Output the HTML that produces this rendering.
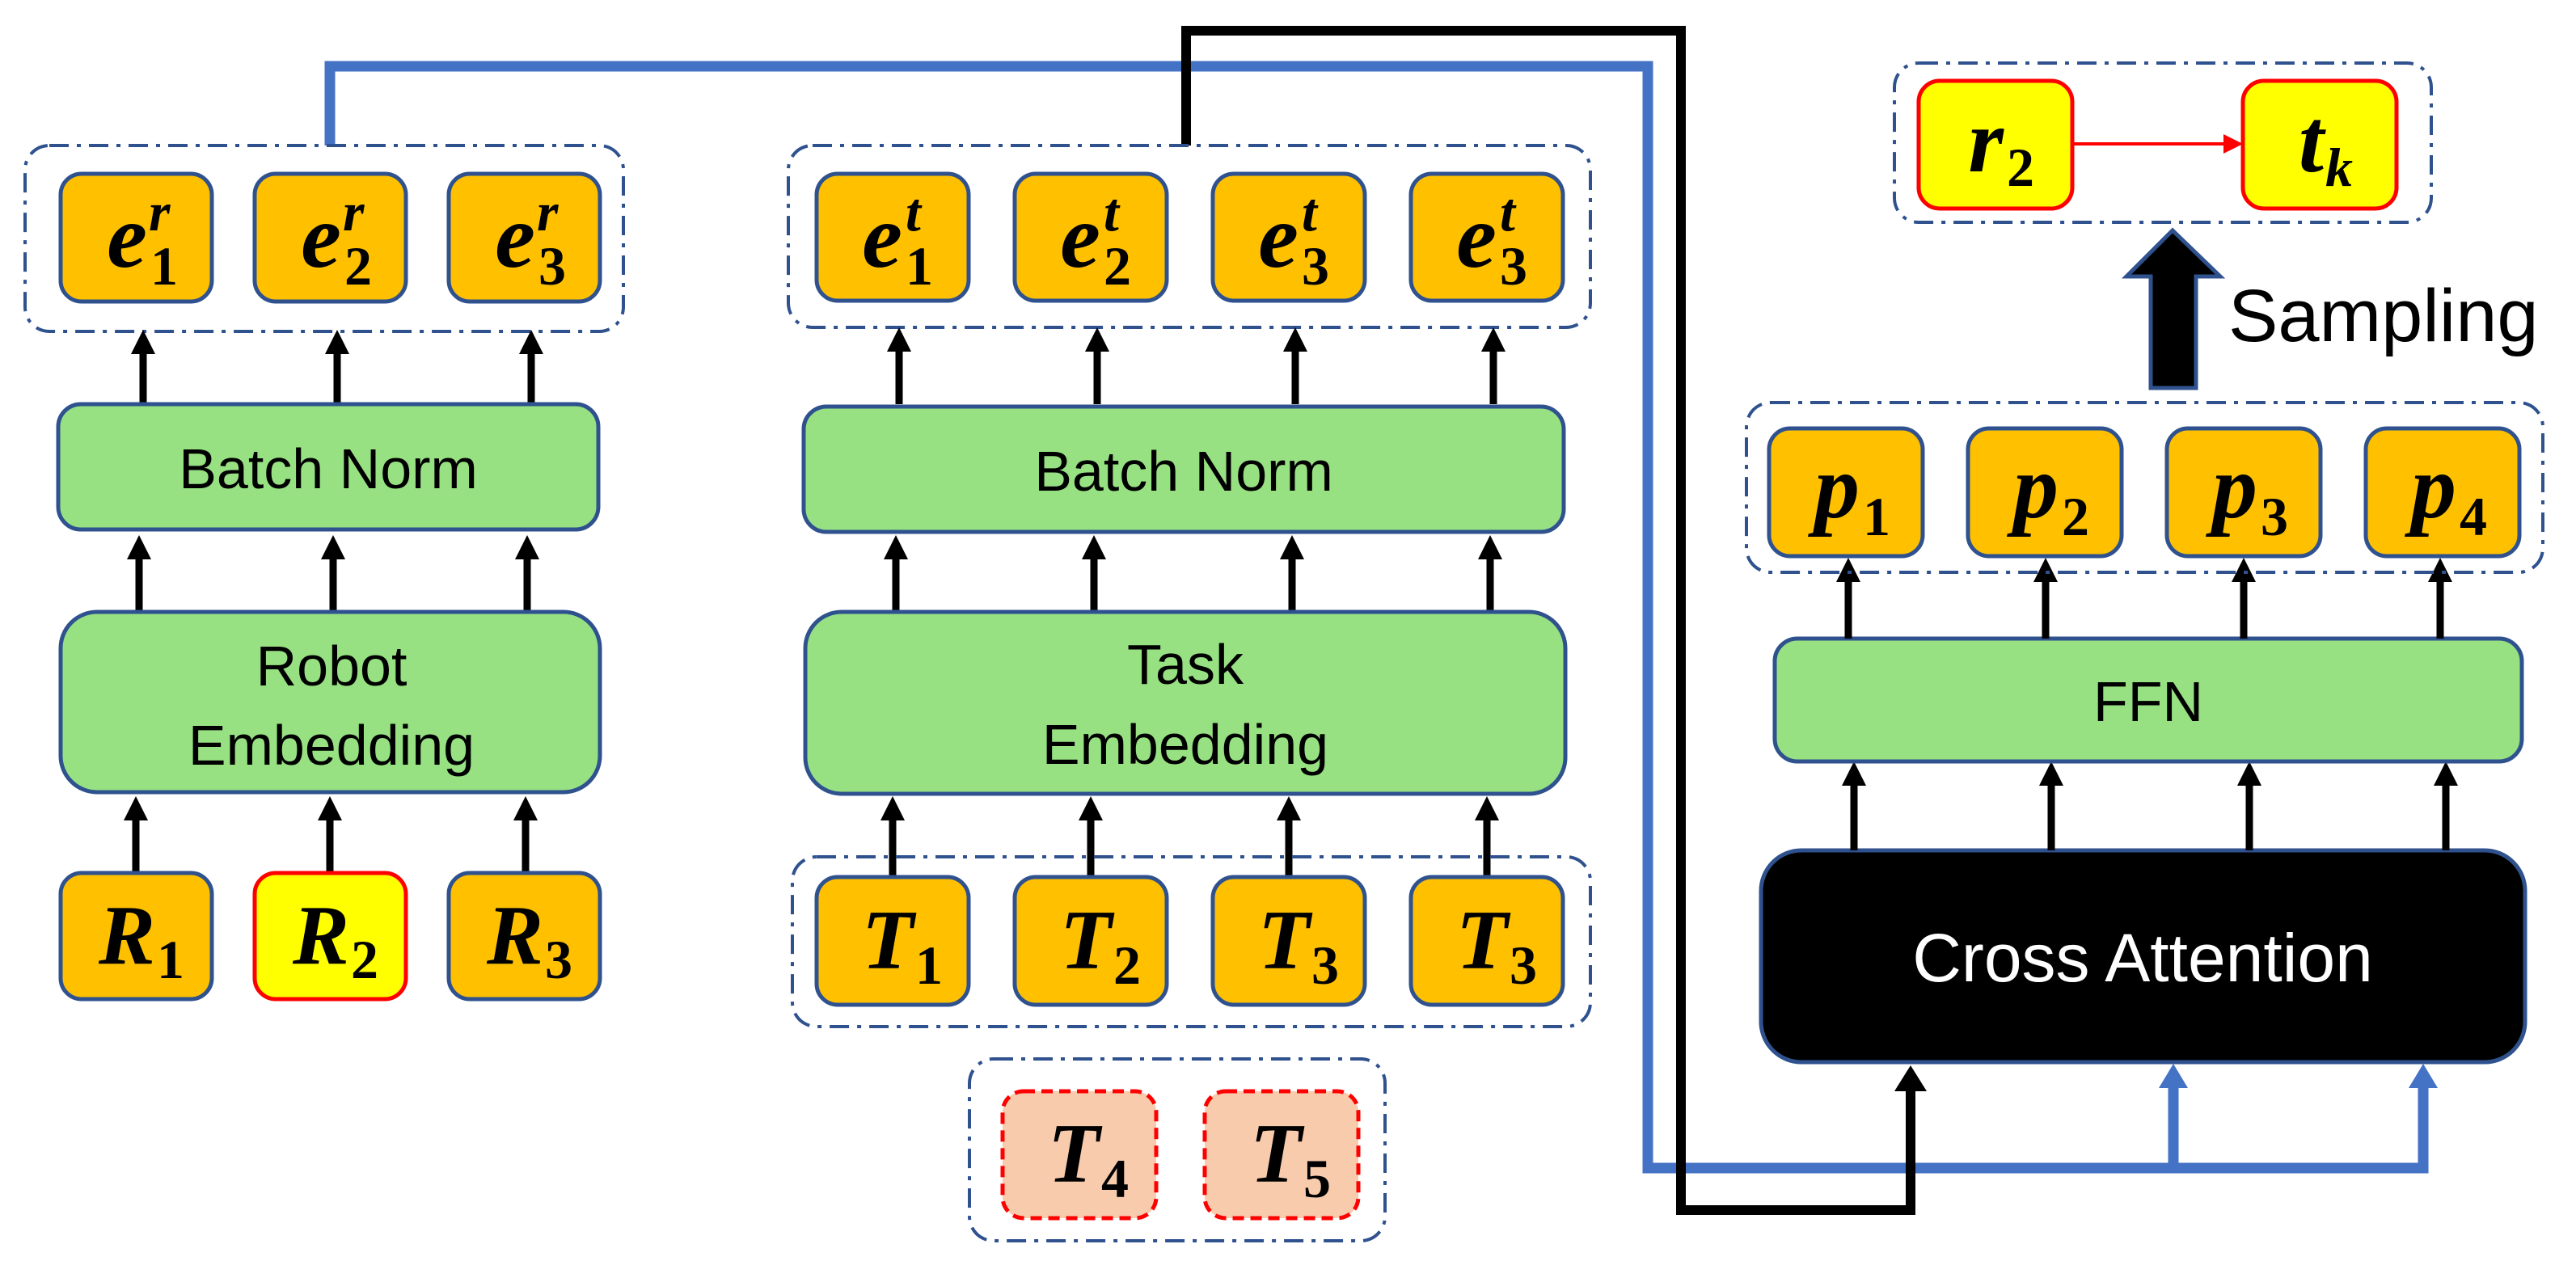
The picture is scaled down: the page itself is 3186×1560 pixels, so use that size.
<!DOCTYPE html>
<html><head><meta charset="utf-8"><style>
html,body{margin:0;padding:0;background:#fff;}
svg{display:block}
.lbl{font-family:"Liberation Sans","DejaVu Sans",sans-serif;fill:#000;text-anchor:middle}
.m{font-family:"Liberation Serif",serif;font-weight:bold;font-style:italic;fill:#000}
.s{font-family:"Liberation Serif",serif;font-weight:bold;fill:#000}
.si{font-family:"Liberation Serif",serif;font-weight:bold;font-style:italic;fill:#000}
</style></head><body>
<svg width="3186" height="1560" viewBox="0 0 3186 1560" xmlns="http://www.w3.org/2000/svg">
<defs>
<style>
.box{fill:#FFC000;stroke:#2F528F;stroke-width:5}
.grn{fill:#97E183;stroke:#2F528F;stroke-width:5}
.grp{fill:none;stroke:#2F528F;stroke-width:4;stroke-dasharray:24 10 5 10}
.ar{stroke:#000;stroke-width:9}
</style>
</defs>

<!-- connectors -->
<path d="M408,180 V82 H2038 V1445 H2997 V1340 M2688,1445 V1340" fill="none" stroke="#4472C4" stroke-width="13"/>
<polygon points="2670,1346 2706,1346 2688,1316" fill="#4472C4"/>
<polygon points="2979,1346 3015,1346 2997,1316" fill="#4472C4"/>
<path d="M1467,180 V38 H2079 V1497 H2363 V1345" fill="none" stroke="#000" stroke-width="12"/>
<polygon points="2343,1350 2383,1350 2363,1318" fill="#000"/>

<!-- LEFT COLUMN -->
<rect class="grp" x="31" y="180" width="740" height="230" rx="30"/>
<rect class="box" x="75" y="215" width="187" height="158" rx="26"/>
<rect class="box" x="315" y="215" width="187" height="158" rx="26"/>
<rect class="box" x="555" y="215" width="187" height="158" rx="26"/>
<text class="m" x="182" y="330" font-size="112" text-anchor="end">e</text><text class="si" x="184" y="285" font-size="68">r</text><text class="s" x="186" y="352" font-size="68">1</text>
<text class="m" x="422" y="330" font-size="112" text-anchor="end">e</text><text class="si" x="424" y="285" font-size="68">r</text><text class="s" x="426" y="352" font-size="68">2</text>
<text class="m" x="662" y="330" font-size="112" text-anchor="end">e</text><text class="si" x="664" y="285" font-size="68">r</text><text class="s" x="666" y="352" font-size="68">3</text>

<line class="ar" x1="177" y1="500" x2="177" y2="430"/><polygon points="162,438 192,438 177,408"/>
<line class="ar" x1="417" y1="500" x2="417" y2="430"/><polygon points="402,438 432,438 417,408"/>
<line class="ar" x1="657" y1="500" x2="657" y2="430"/><polygon points="642,438 672,438 657,408"/>

<rect class="grn" x="72" y="500" width="668" height="155" rx="28"/>
<text class="lbl" x="406" y="604" font-size="70">Batch Norm</text>

<line class="ar" x1="172" y1="755" x2="172" y2="685"/><polygon points="157,692 187,692 172,662"/>
<line class="ar" x1="412" y1="755" x2="412" y2="685"/><polygon points="397,692 427,692 412,662"/>
<line class="ar" x1="652" y1="755" x2="652" y2="685"/><polygon points="637,692 667,692 652,662"/>

<rect class="grn" x="75" y="757" width="667" height="223" rx="45"/>
<text class="lbl" x="410" y="848" font-size="70">Robot</text>
<text class="lbl" x="410" y="946" font-size="70">Embedding</text>

<line class="ar" x1="168" y1="1080" x2="168" y2="1008"/><polygon points="153,1015 183,1015 168,985"/>
<line class="ar" x1="408" y1="1080" x2="408" y2="1008"/><polygon points="393,1015 423,1015 408,985"/>
<line class="ar" x1="650" y1="1080" x2="650" y2="1008"/><polygon points="635,1015 665,1015 650,985"/>

<rect class="box" x="75" y="1080" width="187" height="156" rx="26"/>
<rect x="315" y="1080" width="187" height="156" rx="26" fill="#FFFF00" stroke="#FF0000" stroke-width="5"/>
<rect class="box" x="555" y="1080" width="187" height="156" rx="26"/>
<text class="m" x="192" y="1192" font-size="105" text-anchor="end">R</text><text class="s" x="194" y="1210" font-size="68">1</text>
<text class="m" x="432" y="1192" font-size="105" text-anchor="end">R</text><text class="s" x="434" y="1210" font-size="68">2</text>
<text class="m" x="672" y="1192" font-size="105" text-anchor="end">R</text><text class="s" x="674" y="1210" font-size="68">3</text>

<!-- MIDDLE COLUMN -->
<rect class="grp" x="975" y="180" width="992" height="225" rx="30"/>
<rect class="box" x="1010" y="215" width="188" height="157" rx="26"/>
<rect class="box" x="1255" y="215" width="188" height="157" rx="26"/>
<rect class="box" x="1500" y="215" width="188" height="157" rx="26"/>
<rect class="box" x="1745" y="215" width="188" height="157" rx="26"/>
<text class="m" x="1116" y="330" font-size="112" text-anchor="end">e</text><text class="si" x="1120" y="285" font-size="68">t</text><text class="s" x="1120" y="352" font-size="68">1</text>
<text class="m" x="1361" y="330" font-size="112" text-anchor="end">e</text><text class="si" x="1365" y="285" font-size="68">t</text><text class="s" x="1365" y="352" font-size="68">2</text>
<text class="m" x="1606" y="330" font-size="112" text-anchor="end">e</text><text class="si" x="1610" y="285" font-size="68">t</text><text class="s" x="1610" y="352" font-size="68">3</text>
<text class="m" x="1851" y="330" font-size="112" text-anchor="end">e</text><text class="si" x="1855" y="285" font-size="68">t</text><text class="s" x="1855" y="352" font-size="68">3</text>

<line class="ar" x1="1112" y1="500" x2="1112" y2="428"/><polygon points="1097,435 1127,435 1112,405"/>
<line class="ar" x1="1357" y1="500" x2="1357" y2="428"/><polygon points="1342,435 1372,435 1357,405"/>
<line class="ar" x1="1602" y1="500" x2="1602" y2="428"/><polygon points="1587,435 1617,435 1602,405"/>
<line class="ar" x1="1847" y1="500" x2="1847" y2="428"/><polygon points="1832,435 1862,435 1847,405"/>

<rect class="grn" x="994" y="503" width="940" height="155" rx="28"/>
<text class="lbl" x="1464" y="607" font-size="70">Batch Norm</text>

<line class="ar" x1="1108" y1="755" x2="1108" y2="685"/><polygon points="1093,692 1123,692 1108,662"/>
<line class="ar" x1="1353" y1="755" x2="1353" y2="685"/><polygon points="1338,692 1368,692 1353,662"/>
<line class="ar" x1="1598" y1="755" x2="1598" y2="685"/><polygon points="1583,692 1613,692 1598,662"/>
<line class="ar" x1="1843" y1="755" x2="1843" y2="685"/><polygon points="1828,692 1858,692 1843,662"/>

<rect class="grn" x="996" y="757" width="940" height="225" rx="45"/>
<text class="lbl" x="1466" y="846" font-size="70">Task</text>
<text class="lbl" x="1466" y="945" font-size="70">Embedding</text>

<line class="ar" x1="1104" y1="1085" x2="1104" y2="1008"/><polygon points="1089,1015 1119,1015 1104,985"/>
<line class="ar" x1="1349" y1="1085" x2="1349" y2="1008"/><polygon points="1334,1015 1364,1015 1349,985"/>
<line class="ar" x1="1594" y1="1085" x2="1594" y2="1008"/><polygon points="1579,1015 1609,1015 1594,985"/>
<line class="ar" x1="1839" y1="1085" x2="1839" y2="1008"/><polygon points="1824,1015 1854,1015 1839,985"/>

<rect class="grp" x="980" y="1060" width="987" height="210" rx="30"/>
<rect class="box" x="1010" y="1085" width="188" height="158" rx="26"/>
<rect class="box" x="1255" y="1085" width="188" height="158" rx="26"/>
<rect class="box" x="1500" y="1085" width="188" height="158" rx="26"/>
<rect class="box" x="1745" y="1085" width="188" height="158" rx="26"/>
<text class="m" x="1130" y="1198" font-size="105" text-anchor="end">T</text><text class="s" x="1132" y="1217" font-size="68">1</text>
<text class="m" x="1375" y="1198" font-size="105" text-anchor="end">T</text><text class="s" x="1377" y="1217" font-size="68">2</text>
<text class="m" x="1620" y="1198" font-size="105" text-anchor="end">T</text><text class="s" x="1622" y="1217" font-size="68">3</text>
<text class="m" x="1865" y="1198" font-size="105" text-anchor="end">T</text><text class="s" x="1867" y="1217" font-size="68">3</text>

<rect class="grp" x="1199" y="1310" width="514" height="225" rx="30"/>
<rect x="1240" y="1350" width="190" height="157" rx="26" fill="#F8CBAD" stroke="#FF0000" stroke-width="5" stroke-dasharray="14 8"/>
<rect x="1490" y="1350" width="190" height="157" rx="26" fill="#F8CBAD" stroke="#FF0000" stroke-width="5" stroke-dasharray="14 8"/>
<text class="m" x="1360" y="1462" font-size="105" text-anchor="end">T</text><text class="s" x="1362" y="1481" font-size="68">4</text>
<text class="m" x="1610" y="1462" font-size="105" text-anchor="end">T</text><text class="s" x="1612" y="1481" font-size="68">5</text>

<!-- RIGHT COLUMN -->
<rect x="2178" y="1052" width="945" height="262" rx="50" fill="#000" stroke="#2F528F" stroke-width="5"/>
<text class="lbl" x="2650" y="1214" font-size="84" style="fill:#fff">Cross Attention</text>

<line class="ar" x1="2293" y1="1052" x2="2293" y2="965"/><polygon points="2278,972 2308,972 2293,942"/>
<line class="ar" x1="2537" y1="1052" x2="2537" y2="965"/><polygon points="2522,972 2552,972 2537,942"/>
<line class="ar" x1="2782" y1="1052" x2="2782" y2="965"/><polygon points="2767,972 2797,972 2782,942"/>
<line class="ar" x1="3025" y1="1052" x2="3025" y2="965"/><polygon points="3010,972 3040,972 3025,942"/>

<rect class="grn" x="2195" y="790" width="924" height="152" rx="28"/>
<text class="lbl" x="2657" y="892" font-size="70">FFN</text>

<line class="ar" x1="2286" y1="790" x2="2286" y2="713"/><polygon points="2271,720 2301,720 2286,690"/>
<line class="ar" x1="2530" y1="790" x2="2530" y2="713"/><polygon points="2515,720 2545,720 2530,690"/>
<line class="ar" x1="2775" y1="790" x2="2775" y2="713"/><polygon points="2760,720 2790,720 2775,690"/>
<line class="ar" x1="3018" y1="790" x2="3018" y2="713"/><polygon points="3003,720 3033,720 3018,690"/>

<rect class="grp" x="2160" y="498" width="985" height="210" rx="30"/>
<rect class="box" x="2188" y="530" width="190" height="158" rx="26"/>
<rect class="box" x="2434" y="530" width="190" height="158" rx="26"/>
<rect class="box" x="2680" y="530" width="190" height="158" rx="26"/>
<rect class="box" x="2926" y="530" width="190" height="158" rx="26"/>
<text class="m" x="2300" y="640" font-size="112" text-anchor="end">p</text><text class="s" x="2304" y="662" font-size="68">1</text>
<text class="m" x="2546" y="640" font-size="112" text-anchor="end">p</text><text class="s" x="2550" y="662" font-size="68">2</text>
<text class="m" x="2792" y="640" font-size="112" text-anchor="end">p</text><text class="s" x="2796" y="662" font-size="68">3</text>
<text class="m" x="3038" y="640" font-size="112" text-anchor="end">p</text><text class="s" x="3042" y="662" font-size="68">4</text>

<polygon points="2687,285 2746,342 2716,342 2716,480 2660,480 2660,342 2630,342" fill="#000" stroke="#2F528F" stroke-width="5"/>
<text x="2756" y="422" font-size="92" font-family="Liberation Sans, DejaVu Sans, sans-serif">Sampling</text>

<rect class="grp" x="2343" y="78" width="664" height="197" rx="30"/>
<rect x="2373" y="100" width="190" height="158" rx="26" fill="#FFFF00" stroke="#FF0000" stroke-width="5"/>
<rect x="2774" y="100" width="190" height="158" rx="26" fill="#FFFF00" stroke="#FF0000" stroke-width="5"/>
<line x1="2563" y1="178" x2="2752" y2="178" stroke="#FF0000" stroke-width="4"/>
<polygon points="2750,166 2774,178 2750,190" fill="#FF0000"/>
<text class="m" x="2478" y="212" font-size="112" text-anchor="end">r</text><text class="s" x="2482" y="230" font-size="68">2</text>
<text class="m" x="2874" y="212" font-size="112" text-anchor="end">t</text><text class="si" x="2876" y="230" font-size="68">k</text>
</svg>
</body></html>
